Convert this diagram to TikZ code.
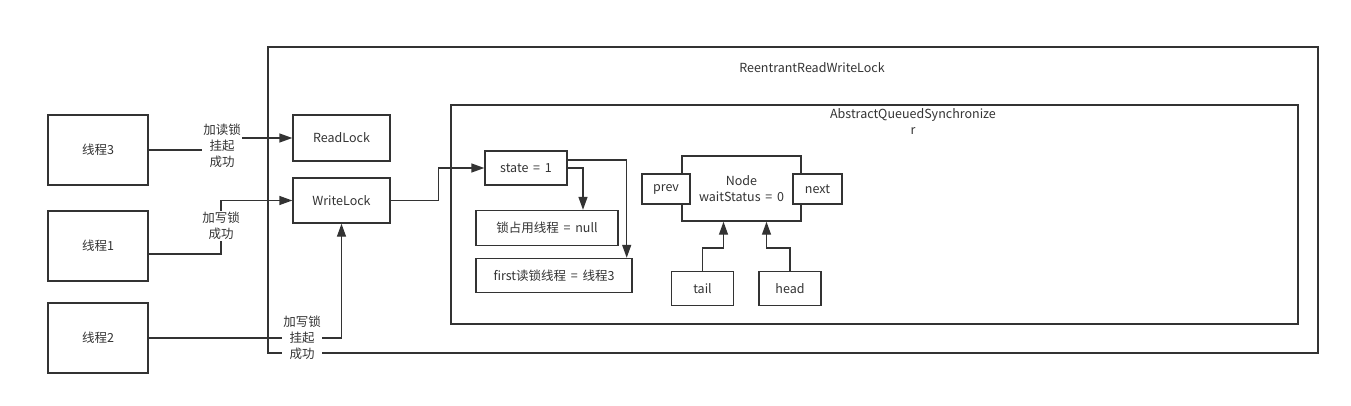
\documentclass[tikz,border=0pt]{standalone}
\usepackage{fontspec}
\setmainfont{Noto Sans CJK SC}[WordSpace=1.7]
\usepackage{tikz}
\usetikzlibrary{
	positioning,
	arrows.meta,
	backgrounds
}
\definecolor{ink}{HTML}{333333}

\tikzset{
	box/.style={draw=ink,line width=1.4pt,inner sep=0pt,text=ink,
		font=\fontsize{12.5}{16}\selectfont},
	frame/.style={box,fill=none},
	lbl/.style={fill=white,inner sep=1pt,align=center,text=ink,
		font=\fontsize{12.5}{16}\selectfont},
	link/.style={draw=ink,line width=1.4pt},
	arrow/.style={link,-{Triangle[length=13pt,width=9pt]}}
}

\begin{document}
\begin{tikzpicture}[x=1pt,y=-1pt]
		\useasboundingbox (0,0) rectangle (1351,405);

		% containers
		\node [frame,minimum width=1050pt,minimum height=306pt] (rrwl) at (793,200) {};
		\node [lbl,fill=none] (rrwltitle) at (812,68) {ReentrantReadWriteLock};
		\node [frame,minimum width=847pt,minimum height=219pt] (aqs) at (874.5,214.5) {};
		\node [lbl,fill=none] (aqstitle) at (913,121.5) {AbstractQueuedSynchronize\\r};

		% threads
		\node [box,minimum width=100pt,minimum height=70pt] (t3) at (98,150) {线程3};
		\node [box,minimum width=100pt,minimum height=70pt] (t1) at (98,246) {线程1};
		\node [box,minimum width=100pt,minimum height=70pt] (t2) at (98,338) {线程2};

		% locks
		\node [box,minimum width=97pt,minimum height=46pt] (readlock)  at (341.5,138) {ReadLock};
		\node [box,minimum width=97pt,minimum height=45pt] (writelock) at (341.5,200.5) {WriteLock};

		% sync state
		\node [box,minimum width=82pt,minimum height=34pt]  (state)       at (526,168)   {state = 1};
		\node [box,minimum width=142pt,minimum height=35pt] (owner)       at (547,228)   {锁占用线程 = null};
		\node [box,minimum width=156pt,minimum height=34pt] (firstreader) at (554,275.5) {first读锁线程 = 线程3};

		% queue node
		\node [box,minimum width=119pt,minimum height=65pt,align=center] (node) at (741.5,188.5) {Node\\waitStatus = 0};
		\node [box,fill=white,minimum width=48pt,minimum height=30pt] (prev) at (666,189) {prev};
		\node [box,fill=white,minimum width=49pt,minimum height=30pt] (next) at (817.5,189) {next};
		\node [box,minimum width=62pt,minimum height=34pt] (tail) at (702.5,288.5) {tail};
		\node [box,minimum width=62pt,minimum height=34pt] (head) at (790,288.5) {head};

		% edge labels
		\node [lbl] (l3) at (222,146) {加读锁\\挂起\\成功};
		\node [lbl] (l1) at (221,226) {加写锁\\成功};
		\node [lbl] (l2) at (302,338) {加写锁\\挂起\\成功};

		% connectors, under the labels
		\begin{scope}[on background layer]
		\draw [arrow] (t3.east) -- (t3.east -| l3.center) |- (readlock.west);
		\draw [arrow] ([yshift=-8pt]t1.east) -| (l1.center) |- (writelock.west);
		\draw [arrow] (t2.east) -| (writelock.south);
		\draw [arrow] (writelock.east) -- ++(48,0) |- (state.west);
		\draw [arrow] ([yshift=8pt]state.east) -| ([xshift=-6pt]firstreader.north east);
		\draw [arrow] (state.east) -| ([xshift=36pt]owner.north);
		\draw [arrow] (tail.north) -- ++(0,-23) -| ([xshift=-18pt]node.south);
		\draw [arrow] (head.north) -- ++(0,-23) -| ([xshift=25pt]node.south);
		\end{scope}
    \end{tikzpicture}
\end{document}
